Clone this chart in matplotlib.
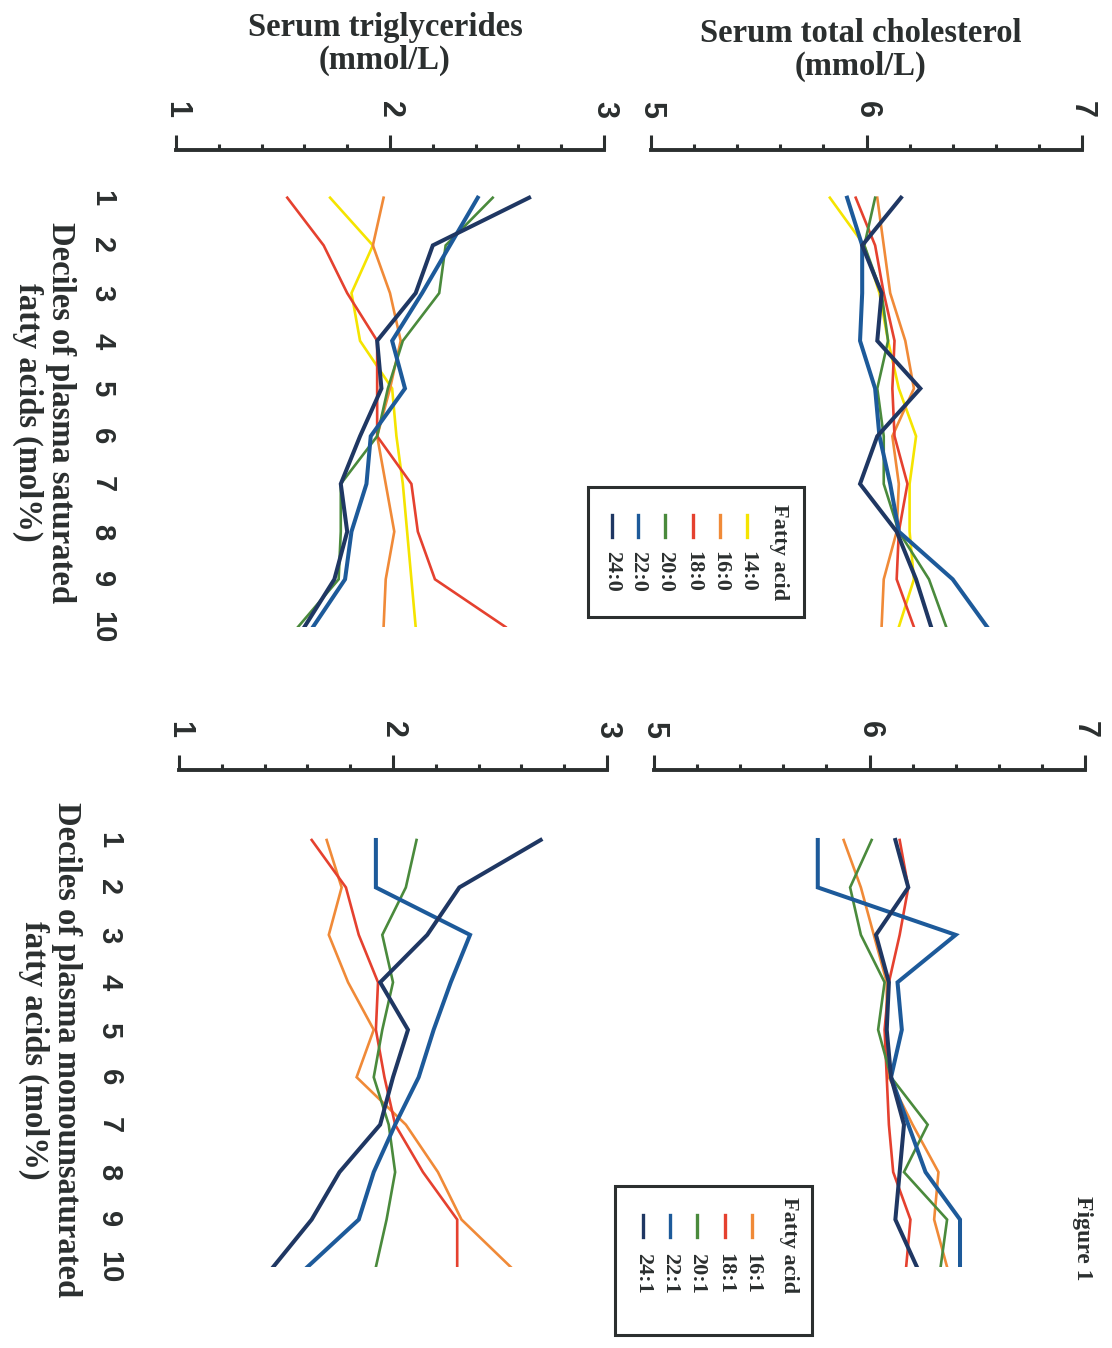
import numpy as np
import matplotlib
matplotlib.use('Agg')
import matplotlib.pyplot as plt
from matplotlib.ticker import MultipleLocator
from matplotlib.patches import Rectangle
from matplotlib.lines import Line2D

deciles = [1, 2, 3, 4, 5, 6, 7, 8, 9, 10]

sat_labels = ['14:0', '16:0', '18:0', '20:0', '22:0', '24:0']
sat_colors = ['#f5e400', '#f08a38', '#e5412f', '#4a8a3c', '#1d5a9a', '#1f3763']

tg_sat_14 = [1.72, 1.92, 1.82, 1.86, 2.01, 2.03, 2.06, 2.08, 2.10, 2.12]
tg_sat_16 = [1.97, 1.92, 2.00, 2.05, 2.00, 1.94, 1.98, 2.02, 1.98, 1.97]
tg_sat_18 = [1.52, 1.69, 1.80, 1.94, 1.94, 1.94, 2.10, 2.13, 2.21, 2.54]
tg_sat_20 = [2.48, 2.26, 2.23, 2.06, 1.99, 1.94, 1.77, 1.77, 1.76, 1.57]
tg_sat_22 = [2.41, 2.28, 2.15, 2.01, 2.07, 1.91, 1.89, 1.82, 1.79, 1.64]
tg_sat_24 = [2.65, 2.20, 2.12, 1.94, 1.96, 1.86, 1.77, 1.80, 1.74, 1.60]

tc_sat_14 = [5.83, 5.99, 6.06, 6.10, 6.15, 6.23, 6.20, 6.20, 6.22, 6.15]
tc_sat_16 = [6.05, 6.08, 6.11, 6.18, 6.22, 6.12, 6.15, 6.14, 6.08, 6.07]
tc_sat_18 = [5.95, 6.04, 6.08, 6.13, 6.12, 6.13, 6.19, 6.15, 6.14, 6.22]
tc_sat_20 = [6.04, 5.99, 6.07, 6.10, 6.05, 6.08, 6.08, 6.15, 6.29, 6.37]
tc_sat_22 = [5.91, 5.98, 5.98, 5.97, 6.04, 6.06, 6.11, 6.15, 6.40, 6.56]
tc_sat_24 = [6.16, 5.98, 6.07, 6.05, 6.25, 6.05, 5.97, 6.14, 6.23, 6.30]

mono_labels = ['16:1', '18:1', '20:1', '22:1', '24:1']
mono_colors = ['#f08a38', '#e5412f', '#4a8a3c', '#1d5a9a', '#1f3763']

tg_mono_16 = [1.69, 1.76, 1.70, 1.79, 1.91, 1.83, 2.06, 2.21, 2.32, 2.55]
tg_mono_18 = [1.62, 1.78, 1.84, 1.93, 1.92, 1.96, 2.01, 2.14, 2.30, 2.30]
tg_mono_20 = [2.11, 2.06, 1.95, 2.00, 1.95, 1.91, 1.98, 2.01, 1.97, 1.92]
tg_mono_22 = [1.92, 1.92, 2.36, 2.27, 2.19, 2.12, 2.01, 1.91, 1.84, 1.60]
tg_mono_24 = [2.69, 2.31, 2.16, 1.94, 2.07, 2.00, 1.94, 1.75, 1.62, 1.44]

tc_mono_16 = [5.88, 5.96, 6.02, 6.08, 6.08, 6.09, 6.20, 6.32, 6.30, 6.36]
tc_mono_18 = [6.14, 6.18, 6.14, 6.09, 6.07, 6.08, 6.09, 6.11, 6.19, 6.17]
tc_mono_20 = [6.01, 5.91, 5.96, 6.07, 6.04, 6.10, 6.27, 6.16, 6.36, 6.33]
tc_mono_22 = [5.76, 5.76, 6.40, 6.13, 6.15, 6.10, 6.18, 6.26, 6.42, 6.42]
tc_mono_24 = [6.12, 6.18, 6.03, 6.09, 6.08, 6.10, 6.16, 6.14, 6.12, 6.22]

W, H = 1112, 1348
INK = '#2b2f2f'
SERIF = 'Liberation Serif'
SANS = 'Liberation Sans'
BLUES = ('#1d5a9a', '#1f3763')

fig = plt.figure(figsize=(W / 100, H / 100), dpi=100)


def px_axes(x0, y0, x1, y1):
    return fig.add_axes([x0 / W, 1 - y1 / H, (x1 - x0) / W, (y1 - y0) / H])


def style_panel(ax, xlim, ylim, show_deciles, ypad):
    ax.set_xlim(*xlim)
    ax.set_ylim(*ylim)
    for s in ['left', 'right', 'bottom']:
        ax.spines[s].set_visible(False)
    ax.spines['top'].set_color(INK)
    ax.spines['top'].set_linewidth(2.8)
    ax.xaxis.set_ticks_position('top')
    ax.set_xticks([xlim[0], xlim[0] + 1, xlim[1]])
    ax.xaxis.set_minor_locator(MultipleLocator(0.2))
    ax.tick_params(axis='x', which='major', direction='out', length=11, width=2.2,
                   color=INK, pad=12, labelrotation=-90, labelsize=22)
    ax.tick_params(axis='x', which='minor', direction='out', length=4, width=2.2, color=INK)
    for lab in ax.get_xticklabels():
        lab.set_fontfamily(SANS)
        lab.set_fontweight('bold')
        lab.set_color(INK)
    if show_deciles:
        ax.set_yticks(deciles)
        ax.tick_params(axis='y', length=0, pad=ypad, labelrotation=-90, labelsize=21)
        for lab in ax.get_yticklabels():
            lab.set_fontfamily(SANS)
            lab.set_fontweight('bold')
            lab.set_color(INK)
            lab.set_va('center')
    else:
        ax.set_yticks([])
    ax.patch.set_visible(False)


def draw_lines(ax, series, colors):
    for vals, c in zip(series, colors):
        lw = 2.9 if c in BLUES else 1.9
        ax.plot(vals, deciles, color=c, lw=lw, solid_joinstyle='miter')


def draw_legend(x0, y0, x1, y1, title_x, title_y, xs, mark_y, lab_y, labels, colors):
    fig.patches.append(Rectangle((x0 / W, 1 - y1 / H), (x1 - x0) / W, (y1 - y0) / H,
                                 transform=fig.transFigure, fill=False,
                                 edgecolor=INK, lw=2.2))
    fig.text(title_x / W, 1 - title_y / H, 'Fatty acid', rotation=-90, ha='center',
             va='center', fontsize=16, fontweight='bold', family=SERIF, color=INK)
    for x, lab, c in zip(xs, labels, colors):
        fig.lines.append(Line2D([x / W, x / W], [1 - (mark_y - 11) / H, 1 - (mark_y + 11) / H],
                                transform=fig.transFigure, color=c, lw=2.4))
        fig.text(x / W, 1 - lab_y / H, lab, rotation=-90, ha='center', va='center',
                 fontsize=16, fontweight='bold', family=SERIF, color=INK)


# top-left: triglycerides vs saturated
ax1 = px_axes(176, 150, 604, 627)
draw_lines(ax1, [tg_sat_14, tg_sat_16, tg_sat_18, tg_sat_20, tg_sat_22, tg_sat_24], sat_colors)
style_panel(ax1, (1, 3), (10, 0), True, 43)

# top-right: cholesterol vs saturated
ax2 = px_axes(651, 150, 1082, 627)
draw_lines(ax2, [tc_sat_14, tc_sat_16, tc_sat_18, tc_sat_20, tc_sat_22, tc_sat_24], sat_colors)
style_panel(ax2, (5, 7), (10, 0), False, 0)

# bottom-left: triglycerides vs monounsaturated
ax3 = px_axes(179, 770, 607, 1267)
draw_lines(ax3, [tg_mono_16, tg_mono_18, tg_mono_20, tg_mono_22, tg_mono_24], mono_colors)
style_panel(ax3, (1, 3), (10, -0.475), True, 40)

# bottom-right: cholesterol vs monounsaturated
ax4 = px_axes(654, 770, 1085, 1267)
draw_lines(ax4, [tc_mono_16, tc_mono_18, tc_mono_20, tc_mono_22, tc_mono_24], mono_colors)
style_panel(ax4, (5, 7), (10, -0.475), False, 0)

# titles
fig.text(385 / W, 1 - 44 / H, 'Serum triglycerides\n(mmol/L)', ha='center', va='center',
         fontsize=23.5, fontweight='bold', family=SERIF, color=INK, linespacing=1.1)
fig.text(861 / W, 1 - 50 / H, 'Serum total cholesterol\n(mmol/L)', ha='center', va='center',
         fontsize=23.5, fontweight='bold', family=SERIF, color=INK, linespacing=1.1)

# decile axis titles
fig.text(44 / W, 1 - 412 / H, 'Deciles of plasma saturated\nfatty acids (mol%)', rotation=-90,
         ha='center', va='center', multialignment='center', fontsize=23.5, fontweight='bold',
         family=SERIF, color=INK, linespacing=1.05)
fig.text(50 / W, 1 - 1050 / H, 'Deciles of plasma monounsaturated\nfatty acids (mol%)', rotation=-90,
         ha='center', va='center', multialignment='center', fontsize=23.5, fontweight='bold',
         family=SERIF, color=INK, linespacing=1.05)

# legends
draw_legend(588, 487, 804, 617, 779, 552, [747, 720, 693, 665, 638, 612], 526, 571,
            sat_labels, sat_colors)
draw_legend(615, 1186, 812, 1335, 789, 1245, [752, 725, 697, 670, 643], 1226, 1273,
            mono_labels, mono_colors)

fig.text(1083 / W, 1 - 1238 / H, 'Figure 1', rotation=-90, ha='center', va='center',
         fontsize=17, fontweight='bold', family=SERIF, color=INK)

fig.savefig('out.png', dpi=100, facecolor='white')
